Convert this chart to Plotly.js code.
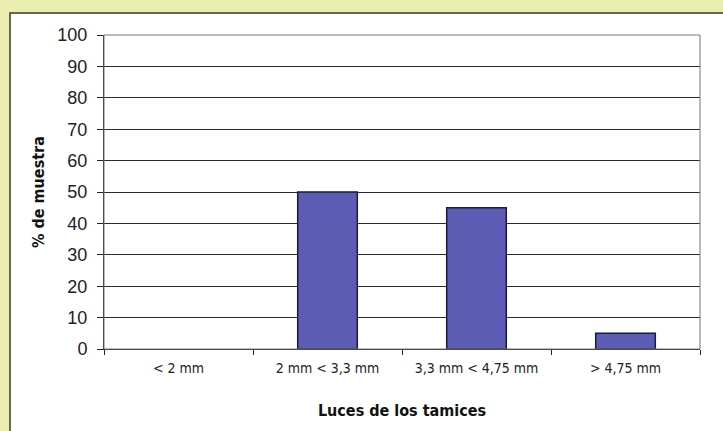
<!DOCTYPE html>
<html><head><meta charset="utf-8">
<script src="https://cdn.plot.ly/plotly-3.0.1.min.js"></script>
<style>html,body{margin:0;padding:0;}#c{width:723px;height:431px;}</style>
</head><body><div id="c"></div>
<script>
const categories = ["< 2 mm", "2 mm < 3,3 mm", "3,3 mm < 4,75 mm", "> 4,75 mm"];
const values = [0, 50, 45, 5];
const yTicks = [0,10,20,30,40,50,60,70,80,90,100];

const condFont = 'DejaVu Sans Condensed, DejaVu Sans, sans-serif';
const data = [{
  type: 'bar', x: categories, y: values,
  marker: {color: '#5c5cb4', line: {color: '#1a1a40', width: values.map(v => v > 0 ? 1.5 : 0)}},
  hoverinfo: 'none'
}];
const layout = {
  width: 723, height: 431,
  margin: {l: 104, r: 23, t: 35, b: 82},
  paper_bgcolor: '#e9eeb0',
  plot_bgcolor: '#c0c0c0',
  bargap: 0.6,
  showlegend: false,
  shapes: [{type: 'rect', xref: 'paper', yref: 'paper', layer: 'below',
    x0: -104/596 + 10/596, x1: 1.2, y0: -0.5, y1: 1 + (35-13)/314,
    fillcolor: '#ffffff', line: {color: '#3a3a2a', width: 1.5}}],
  xaxis: {
    type: 'category', tickson: 'boundaries', ticks: 'outside', ticklen: 5,
    tickcolor: '#222', showgrid: false, showline: true, linecolor: '#222', linewidth: 1,
    ticklabelstandoff: 6,
    tickfont: {family: condFont, size: 14, color: '#222'},
    title: {text: 'Luces de los tamices', standoff: 30,
      font: {family: condFont, size: 16, color: '#111', weight: 'bold'}}
  },
  yaxis: {
    range: [0, 100], tickvals: yTicks, ticktext: yTicks.map(String),
    ticks: 'outside', ticklen: 6, tickcolor: '#222',
    ticklabelstandoff: 6,
    showgrid: true, gridcolor: '#2a2a2a', gridwidth: 1, zeroline: false,
    showline: true, linecolor: '#222', linewidth: 1, mirror: false,
    tickfont: {family: 'Liberation Sans, Arial, sans-serif', size: 18, color: '#222'},
    title: {text: '% de muestra', standoff: 8,
      font: {family: condFont, size: 16, color: '#111', weight: 'bold'}}
  }
};
layout.shapes.push({type: 'rect', xref: 'paper', yref: 'paper', x0: 0, x1: 1, y0: 0, y1: 1,
  line: {color: '#777', width: 1}, layer: 'above'});
Plotly.newPlot('c', data, layout, {staticPlot: true});
</script></body></html>
